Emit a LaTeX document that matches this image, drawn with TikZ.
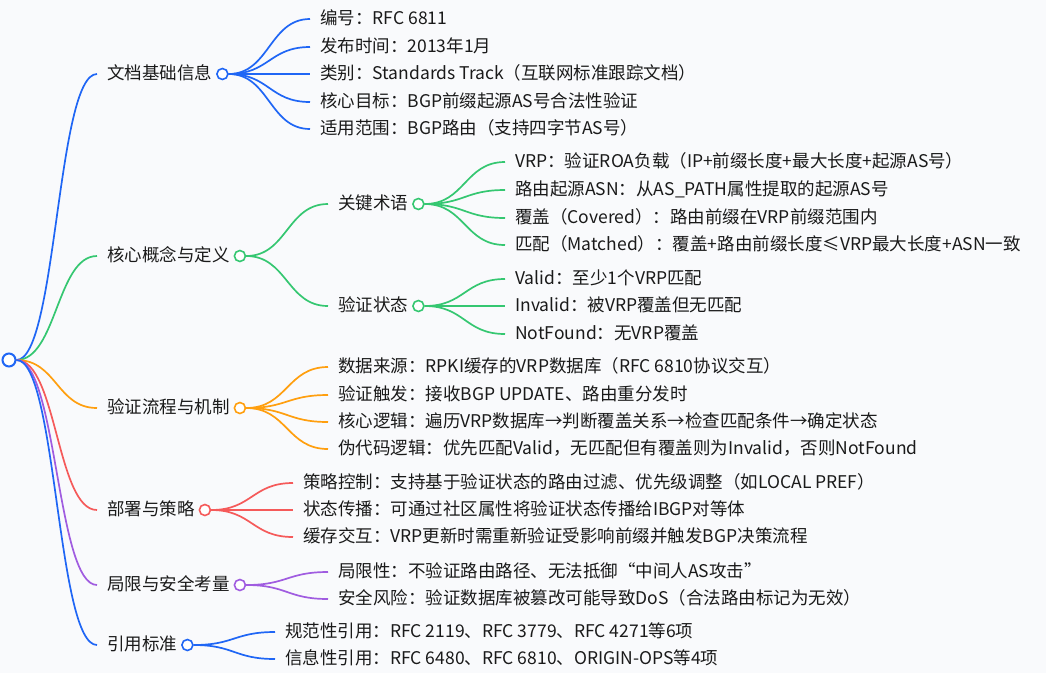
\documentclass[tikz,border=0pt]{standalone}
\usepackage{fontspec}
\setmainfont{Noto Sans CJK SC}
\usetikzlibrary{calc,backgrounds}
\definecolor{bgpale}{HTML}{F9FAFC}
\definecolor{ink}{HTML}{1A1A1A}
\definecolor{bl}{HTML}{1F66F5}
\definecolor{gr}{HTML}{35C771}
\definecolor{og}{HTML}{FF9F0F}
\definecolor{rd}{HTML}{F55A5A}
\definecolor{pu}{HTML}{A05CE0}
\tikzset{
 link/.style={to path={let \p1=(\tikztostart), \p2=(\tikztotarget) in
   (\tikztostart) .. controls ({(\x1+\x2)/2},\y1) and ({(\x1+\x2)/2},\y2) .. (\tikztotarget)}}}

\begin{document}
\begin{tikzpicture}[x=1pt,y=-1pt,
 txt/.style={anchor=west,inner xsep=10pt,inner ysep=0pt,text height=1em,
  text depth=0em,font=\fontsize{17.5}{20}\selectfont,text=ink},
 knob/.style={circle,draw=#1,fill=white,line width=1.6pt,minimum size=11pt,inner sep=0pt},
 ln/.style={draw=#1,line width=1.7pt,link}]
 \useasboundingbox (0,0) rectangle (1046,673);
 \node[knob=bl,line width=2pt,minimum size=13pt] (root) at (9,360) {};
 % first level
 \node[txt] (doc) at (97,74) {文档基础信息};
 \node[knob=bl] (docO) at (doc.east) {};
 \node[txt] (core) at (97,256) {核心概念与定义};
 \node[knob=gr] (coreO) at (core.east) {};
 \node[txt] (flow) at (97,408) {验证流程与机制};
 \node[knob=og] (flowO) at (flow.east) {};
 \node[txt] (dep) at (97,510) {部署与策略};
 \node[knob=rd] (depO) at (dep.east) {};
 \node[txt] (lim) at (97,585) {局限与安全考量};
 \node[knob=pu] (limO) at (lim.east) {};
 \node[txt] (cite) at (97,645) {引用标准};
 \node[knob=bl] (citeO) at (cite.east) {};
 % document info
 \node[txt] (d1) at (310,19) {编号：RFC 6811};
 \node[txt] (d2) at (310,47) {发布时间：2013年1月};
 \node[txt] (d3) at (310,74) {类别：Standards Track（互联网标准跟踪文档）};
 \node[txt] (d4) at (310,102) {核心目标：BGP前缀起源AS号合法性验证};
 \node[txt] (d5) at (310,129) {适用范围：BGP路由（支持四字节AS号）};
 % concepts
 \node[txt] (terms) at (328,204) {关键术语};
 \node[knob=gr] (termsO) at (terms.east) {};
 \node[txt] (states) at (328,306) {验证状态};
 \node[knob=gr] (statesO) at (states.east) {};
 \node[txt] (t1) at (505,162) {VRP：验证ROA负载（IP+前缀长度+最大长度+起源AS号）};
 \node[txt] (t2) at (505,190) {路由起源ASN：从AS\_PATH属性提取的起源AS号};
 \node[txt] (t3) at (505,218) {覆盖（Covered）：路由前缀在VRP前缀范围内};
 \node[txt] (t4) at (505,245) {匹配（Matched）：覆盖+路由前缀长度≤VRP最大长度+ASN一致};
 \node[txt] (s1) at (505,279) {Valid：至少1个VRP匹配};
 \node[txt] (s2) at (505,306) {Invalid：被VRP覆盖但无匹配};
 \node[txt] (s3) at (505,334) {NotFound：无VRP覆盖};
 % process
 \node[txt] (f1) at (328,367) {数据来源：RPKI缓存的VRP数据库（RFC 6810协议交互）};
 \node[txt] (f2) at (328,395) {验证触发：接收BGP UPDATE、路由重分发时};
 \node[txt] (f3) at (328,422) {核心逻辑：遍历VRP数据库→判断覆盖关系→检查匹配条件→确定状态};
 \node[txt] (f4) at (328,449) {伪代码逻辑：优先匹配Valid，无匹配但有覆盖则为Invalid，否则NotFound};
 % deployment
 \node[txt] (p1) at (293,483) {策略控制：支持基于验证状态的路由过滤、优先级调整（如LOCAL PREF）};
 \node[txt] (p2) at (293,510) {状态传播：可通过社区属性将验证状态传播给IBGP对等体};
 \node[txt] (p3) at (293,537) {缓存交互：VRP更新时需重新验证受影响前缀并触发BGP决策流程};
 % limits
 \node[txt] (l1) at (328,572) {局限性：不验证路由路径、无法抵御“中间人AS攻击”};
 \node[txt] (l2) at (328,599) {安全风险：验证数据库被篡改可能导致DoS（合法路由标记为无效）};
 % references
 \node[txt] (r1) at (275,632) {规范性引用：RFC 2119、RFC 3779、RFC 4271等6项};
 \node[txt] (r2) at (275,659) {信息性引用：RFC 6480、RFC 6810、ORIGIN-OPS等4项};
 \begin{scope}[on background layer]
  \fill[bgpale] (0,0) rectangle (1046,673);
  \draw[ln=bl] (root.east) to (doc.west); \draw[ln=gr] (root.east) to (core.west);
  \draw[ln=og] (root.east) to (flow.west); \draw[ln=rd] (root.east) to (dep.west);
  \draw[ln=pu] (root.east) to (lim.west); \draw[ln=bl] (root.east) to (cite.west);
  \draw[ln=bl] (docO.east) to (d1.west); \draw[ln=bl] (docO.east) to (d2.west);
  \draw[ln=bl] (docO.east) to (d3.west); \draw[ln=bl] (docO.east) to (d4.west);
  \draw[ln=bl] (docO.east) to (d5.west);
  \draw[ln=gr] (coreO.east) to (terms.west); \draw[ln=gr] (coreO.east) to (states.west);
  \draw[ln=gr] (termsO.east) to (t1.west); \draw[ln=gr] (termsO.east) to (t2.west);
  \draw[ln=gr] (termsO.east) to (t3.west); \draw[ln=gr] (termsO.east) to (t4.west);
  \draw[ln=gr] (statesO.east) to (s1.west); \draw[ln=gr] (statesO.east) to (s2.west);
  \draw[ln=gr] (statesO.east) to (s3.west);
  \draw[ln=og] (flowO.east) to (f1.west); \draw[ln=og] (flowO.east) to (f2.west);
  \draw[ln=og] (flowO.east) to (f3.west); \draw[ln=og] (flowO.east) to (f4.west);
  \draw[ln=rd] (depO.east) to (p1.west); \draw[ln=rd] (depO.east) to (p2.west);
  \draw[ln=rd] (depO.east) to (p3.west);
  \draw[ln=pu] (limO.east) to (l1.west); \draw[ln=pu] (limO.east) to (l2.west);
  \draw[ln=bl] (citeO.east) to (r1.west); \draw[ln=bl] (citeO.east) to (r2.west);
 \end{scope}
\end{tikzpicture}
\end{document}
